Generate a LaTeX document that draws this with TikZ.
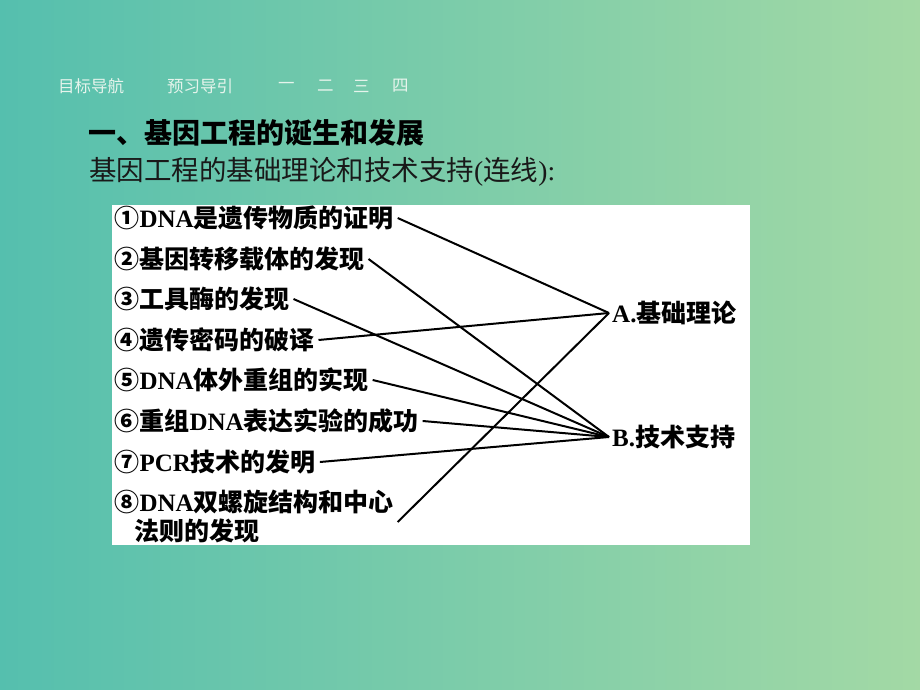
\documentclass[tikz,border=0pt]{standalone}
\usepackage{fontspec}
\setmainfont{Noto Sans CJK SC}
\newfontfamily\latinfont{Liberation Serif}
\newcommand{\lat}[1]{{\latinfont #1}}
\newcommand{\circnum}[1]{\makebox[1.02em][l]{#1}}
\definecolor{bgleft}{HTML}{55BFAE}
\definecolor{bgmid}{HTML}{80CCA9}
\definecolor{bgright}{HTML}{A3D9A5}
\definecolor{navtext}{HTML}{E6F4EC}
\tikzstyle{nav}=[anchor=west,inner sep=0pt,text=navtext,font=\fontsize{16.5}{18}\selectfont]
\tikzstyle{item}=[anchor=west,inner xsep=1pt,inner ysep=2pt,outer xsep=3pt,align=left,font=\fontsize{25}{29}\selectfont\bfseries]
\tikzstyle{type}=[anchor=west,inner sep=3pt,font=\fontsize{25}{29}\selectfont\bfseries]
\tikzstyle{link}=[draw,line width=2pt]

\begin{document}
\begin{tikzpicture}[x=1pt,y=-1pt]
        \shade[left color=bgleft,middle color=bgmid,right color=bgright] (0,0) rectangle (920,690);
        \useasboundingbox (0,0) rectangle (920,690);
        % navigation
        \node[nav] (n1) at (58,86) {目标导航};
        \node[nav] (n2) at (167,86) {预习导引};
        \node[nav] (n3) at (278,86) {一};
        \node[nav] (n4) at (317,86) {二};
        \node[nav] (n5) at (353,86) {三};
        \node[nav] (n6) at (392,86) {四};
        % heading
        \node[anchor=west,inner sep=0pt,font=\fontsize{28}{32}\selectfont\bfseries] (title) at (88,133) {一、基因工程的诞生和发展};
        \node[anchor=west,inner sep=0pt,text=black!90,font=\fontsize{27.5}{32}\selectfont] (sub) at (89,172) {基因工程的基础理论和技术支持\lat{(}连线\lat{):}};
        % panel
        \fill[white] (112,205) rectangle (750,545);
        \node[item] (1) at (110,218) {\circnum{①}\lat{DNA}是遗传物质的证明};
        \node[item] (2) at (110,259) {\circnum{②}基因转移载体的发现};
        \node[item] (3) at (110,299) {\circnum{③}工具酶的发现};
        \node[item] (4) at (110,340) {\circnum{④}遗传密码的破译};
        \node[item] (5) at (110,380) {\circnum{⑤}\lat{DNA}体外重组的实现};
        \node[item] (6) at (110,421) {\circnum{⑥}重组\lat{DNA}表达实验的成功};
        \node[item] (7) at (110,462) {\circnum{⑦}\lat{PCR}技术的发明};
        \node[item] (8) at (110,516) {\circnum{⑧}\lat{DNA}双螺旋结构和中心\\\hspace*{0.8em}法则的发现};
        \node[type] (A) at (609,313) {\lat{A.}基础理论};
        \node[type] (B) at (609,437) {\lat{B.}技术支持};
        \path[link] (1.east) -- (A.west);
        \path[link] (4.east) -- (A.west);
        \path[link] ([yshift=-6pt]8.east) -- (A.west);
        \path[link] (2.east) -- (B.west);
        \path[link] (3.east) -- (B.west);
        \path[link] (5.east) -- (B.west);
        \path[link] (6.east) -- (B.west);
        \path[link] (7.east) -- (B.west);
    \end{tikzpicture}
\end{document}
